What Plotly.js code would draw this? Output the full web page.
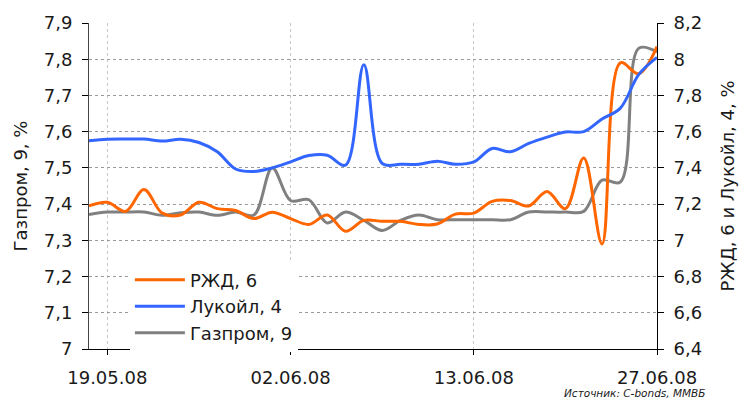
<!DOCTYPE html>
<html>
<head>
<meta charset="utf-8">
<script src="https://cdn.plot.ly/plotly-3.0.1.min.js"></script>
<style>
    html, body { margin: 0; padding: 0; background: #fff; }
    #chart { width: 739px; height: 400px; }
</style>
</head>
<body>
<div id="chart"></div>
<script>
// trading days (category axis)
const dates = [
    '16.05.08', '19.05.08', '20.05.08', '21.05.08', '22.05.08', '23.05.08',
    '26.05.08', '27.05.08', '28.05.08', '29.05.08', '30.05.08',
    '02.06.08', '03.06.08', '04.06.08', '05.06.08', '06.06.08', '07.06.08',
    '09.06.08', '10.06.08', '11.06.08', '12.06.08', '13.06.08',
    '16.06.08', '17.06.08', '18.06.08', '19.06.08', '20.06.08',
    '23.06.08', '24.06.08', '25.06.08', '26.06.08', '27.06.08'
];
const tickDates = ['19.05.08', '02.06.08', '13.06.08', '27.06.08'];

// yields, %
const rzd = [7.19, 7.21, 7.16, 7.28, 7.15, 7.14, 7.21, 7.175, 7.165, 7.12, 7.155,
    7.12, 7.088, 7.14, 7.05, 7.11, 7.105, 7.105, 7.088, 7.09, 7.145, 7.15,
    7.215, 7.22, 7.19, 7.27, 7.175, 7.455, 6.98, 7.98, 7.92, 8.07];
const lukoil = [7.55, 7.558, 7.559, 7.559, 7.548, 7.558, 7.54, 7.489, 7.394, 7.38, 7.4,
    7.433, 7.468, 7.47, 7.415, 7.97, 7.425, 7.42, 7.42, 7.437, 7.42, 7.433,
    7.507, 7.489, 7.535, 7.57, 7.598, 7.6, 7.67, 7.73, 7.915, 8.01];
const gazprom = [7.371, 7.378, 7.378, 7.378, 7.369, 7.376, 7.378, 7.369, 7.378, 7.37, 7.5,
    7.41, 7.412, 7.348, 7.378, 7.355, 7.327, 7.355, 7.37, 7.357, 7.357, 7.357,
    7.357, 7.357, 7.378, 7.378, 7.378, 7.38, 7.466, 7.461, 7.83, 7.82];

const FONT = 'DejaVu Sans, Verdana, sans-serif';

function series(name, values, color, yaxis) {
    return {
        x: dates,
        y: values,
        name: name,
        yaxis: yaxis,
        type: 'scatter',
        mode: 'lines',
        line: { color: color, width: 3, shape: 'spline', smoothing: 1 },
        hoverinfo: 'x+y+name'
    };
}

const data = [
    series('РЖД, 6', rzd, '#ff6600', 'y2'),
    series('Лукойл, 4', lukoil, '#3366ff', 'y2'),
    series('Газпром, 9', gazprom, '#808080', 'y')
];

const layout = {
    width: 739,
    height: 400,
    margin: { l: 89, r: 82, t: 23, b: 51 },
    paper_bgcolor: '#fff',
    plot_bgcolor: '#fff',
    separators: ', ',
    font: { family: FONT, size: 18, color: '#1a1a1a' },
    showlegend: true,
    legend: {
        x: 0.072, y: 0.268, xanchor: 'left', yanchor: 'top',
        bgcolor: '#fff', borderwidth: 0,
        itemwidth: 50,
        font: { family: FONT, size: 18, color: '#1a1a1a' }
    },
    xaxis: {
        type: 'category',
        range: [0, 31],
        tickmode: 'array',
        tickvals: tickDates,
        ticktext: tickDates,
        ticks: 'outside', ticklen: 5, tickcolor: '#000',
        ticklabelstandoff: 7,
        showline: true, linecolor: '#000', linewidth: 1,
        showgrid: true, gridcolor: '#c8c8c8', griddash: 'dot', gridwidth: 1,
        zeroline: false,
        tickfont: { family: FONT, size: 18, color: '#1a1a1a' }
    },
    // inner half of the crossing ticks on the date axis
    xaxis2: {
        type: 'category', overlaying: 'x', anchor: 'y',
        range: [0, 31],
        tickmode: 'array', tickvals: tickDates,
        ticks: 'inside', ticklen: 5, tickcolor: '#000',
        showticklabels: false, showgrid: false, showline: false, zeroline: false
    },
    yaxis: {
        range: [7, 7.9],
        dtick: 0.1,
        ticks: 'outside', ticklen: 6, tickcolor: '#000',
        ticklabelstandoff: 6,
        showline: true, linecolor: '#444', linewidth: 1,
        showgrid: true, gridcolor: '#9a9a9a', griddash: 'dot', gridwidth: 1,
        zeroline: false,
        title: { text: 'Газпром, 9, %', font: { family: FONT, size: 18, color: '#1a1a1a' }, standoff: 11 },
        tickfont: { family: FONT, size: 18, color: '#1a1a1a' }
    },
    yaxis2: {
        range: [6.4, 8.2],
        dtick: 0.2,
        overlaying: 'y',
        side: 'right',
        anchor: 'x',
        ticks: 'outside', ticklen: 6, tickcolor: '#000',
        ticklabelstandoff: 6,
        showline: true, linecolor: '#000', linewidth: 1,
        showgrid: false, zeroline: false,
        title: { text: 'РЖД, 6 и Лукойл, 4, %', font: { family: FONT, size: 18, color: '#1a1a1a' }, standoff: 20 },
        tickfont: { family: FONT, size: 18, color: '#1a1a1a' }
    },
    // inner half of the crossing ticks on the right axis
    yaxis3: {
        range: [6.4, 8.2], dtick: 0.2,
        overlaying: 'y', side: 'right', anchor: 'x',
        ticks: 'inside', ticklen: 6, tickcolor: '#000',
        showticklabels: false, showgrid: false, showline: false, zeroline: false
    },
    annotations: [{
        text: 'Источник: C-bonds, ММВБ',
        xref: 'paper', yref: 'paper',
        x: 1.086, y: -0.157,
        xanchor: 'right', yanchor: 'bottom',
        borderpad: 0,
        showarrow: false,
        font: { family: FONT, size: 10.5, color: '#1a1a1a', style: 'italic' }
    }]
};

Plotly.newPlot('chart', data, layout, { staticPlot: true });
</script>
</body>
</html>
